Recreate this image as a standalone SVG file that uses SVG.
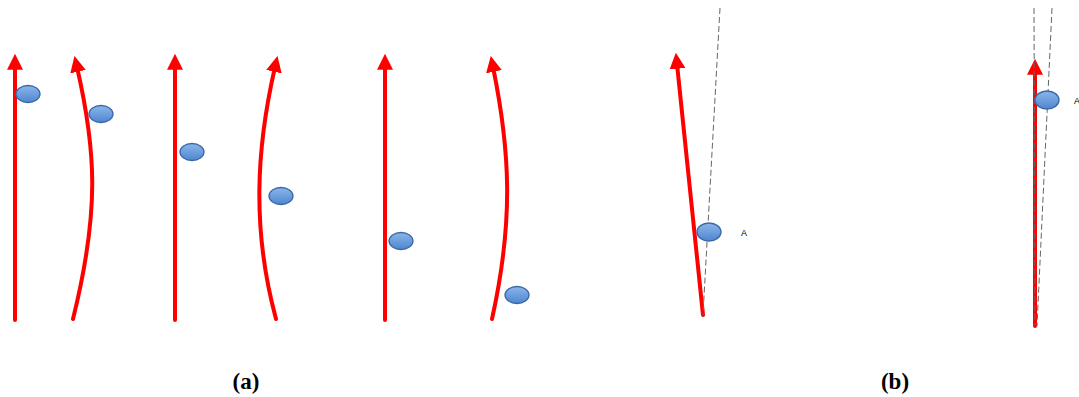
<svg xmlns="http://www.w3.org/2000/svg" width="1079" height="397" viewBox="0 0 1079 397">
<defs>
<linearGradient id="bg" x1="0" y1="0" x2="0" y2="1">
<stop offset="0" stop-color="#8bb6ea"/>
<stop offset="1" stop-color="#4f86cf"/>
</linearGradient>
<marker id="ah" markerWidth="4" markerHeight="4" refX="1.2" refY="2" orient="auto" markerUnits="strokeWidth" viewBox="0 0 4 4">
<path d="M0,0 L4,2 L0,4 Z" fill="#ff0000"/>
</marker>
<style>
.r{fill:none;stroke:#ff0000;stroke-width:4;stroke-linecap:round;marker-end:url(#ah)}
.b{fill:url(#bg);stroke:#3a68a8;stroke-width:1.3}
.d{fill:none;stroke:#666;stroke-width:1;stroke-dasharray:6,3}
.t{font-family:"Liberation Serif",serif;font-weight:bold;font-size:23px;fill:#000}
.a{font-family:"Liberation Sans",sans-serif;font-size:9px;fill:#000}
</style>
</defs>
<g id="connectors">
<path class="r" d="M15,320 L15,65"/>
<path class="r" d="M73,319 C100,210 96,150 77,67"/>
<path class="r" d="M175,320 L175,65"/>
<path class="r" d="M276,319 C252,230 256,150 275,67"/>
<path class="r" d="M385,320 L385,65"/>
<path class="r" d="M492,319 C514,220 510,150 493,67"/>
<path class="r" d="M703,315 L677,64"/>
<path class="r" d="M1035,326 L1035,70"/>
<path class="d" d="M720,8 L703,315"/>
<path class="d" d="M1034,8 L1035,326"/>
<path class="d" d="M1052,8 L1037,326"/>
</g>
<g id="n1"><ellipse class="b" cx="28" cy="94" rx="12" ry="8.5"/></g>
<g id="n2"><ellipse class="b" cx="101" cy="114" rx="12" ry="8.5"/></g>
<g id="n3"><ellipse class="b" cx="192" cy="152" rx="12" ry="8.5"/></g>
<g id="n4"><ellipse class="b" cx="281" cy="196" rx="12" ry="8.5"/></g>
<g id="n5"><ellipse class="b" cx="401" cy="241" rx="12" ry="8.5"/></g>
<g id="n6"><ellipse class="b" cx="517" cy="295" rx="12" ry="8.5"/></g>
<g id="nA1"><ellipse class="b" cx="709" cy="232" rx="12" ry="9"/><text class="a" x="741" y="236">A</text></g>
<g id="nA2"><ellipse class="b" cx="1047" cy="100" rx="12" ry="9"/><text class="a" x="1074" y="104">A</text></g>
<text class="t" x="246" y="389" text-anchor="middle">(a)</text>
<text class="t" x="895" y="389" text-anchor="middle">(b)</text>
</svg>
